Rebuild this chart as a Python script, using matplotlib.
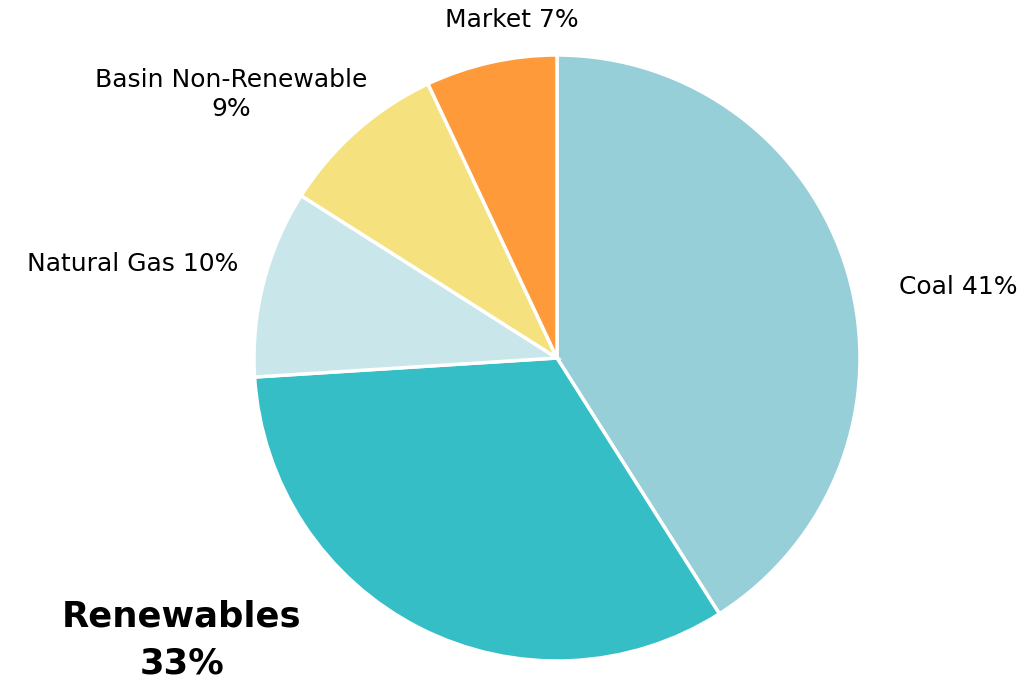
import matplotlib.pyplot as plt
import numpy as np

plt.rcParams['font.family'] = ['DejaVu Sans']

# data
names = ['Coal', 'Renewables', 'Natural Gas', 'Basin Non-Renewable', 'Market']
shares = [41, 33, 10, 9, 7]
colors = ['#97CFD9', '#35BEC6', '#C9E6EA', '#F5E27E', '#FF9A3A']

W, H = 1028, 689
R = 303.0           # pie radius in px
cx, cy = 557, 331   # pie centre in px (from bottom-left)

fig = plt.figure(figsize=(W / 100, H / 100), dpi=100)
ax = fig.add_axes([0, 0, 1, 1])
ax.pie(shares, colors=colors, startangle=90, counterclock=False,
       wedgeprops=dict(edgecolor='white', linewidth=2.5))
ax.set_aspect('auto')
ax.set_xlim(-cx / R, (W - cx) / R)
ax.set_ylim(-cy / R, (H - cy) / R)
ax.axis('off')

# label positions (data units, pie radius = 1)
lab_pos = {
    'Coal': (1.325, 0.235),
    'Renewables': (-1.238, -0.93),
    'Natural Gas': (-1.40, 0.31),
    'Basin Non-Renewable': (-1.075, 0.87),
    'Market': (-0.148, 1.115),
}
for n, s in zip(names, shares):
    x, y = lab_pos[n]
    if n == 'Renewables':
        ax.text(x, y, '%s\n%d%%' % (n, s), ha='center', va='center',
                fontsize=25.5, fontweight='bold', linespacing=1.5)
    elif n == 'Basin Non-Renewable':
        ax.text(x, y, '%s\n%d%%' % (n, s), ha='center', va='center',
                fontsize=18, linespacing=1.3)
    else:
        ax.text(x, y, '%s %d%%' % (n, s), ha='center', va='center', fontsize=18)

fig.savefig('out.png', dpi=100)
